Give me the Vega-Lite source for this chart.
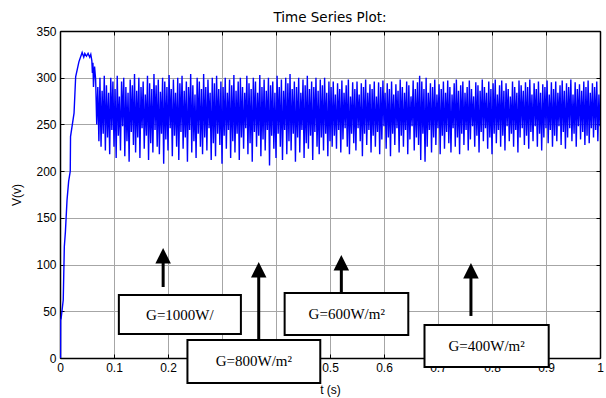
{
  "$schema": "https://vega.github.io/schema/vega-lite/v6.json",
  "width": 540,
  "height": 327,
  "autosize": {"type": "none"},
  "padding": {"left": 60, "top": 31, "right": 6, "bottom": 40},
  "config": {"font": "Liberation Sans", "view": {"stroke": null}},
  "title": {"text": "Time Series Plot:", "font": "DejaVu Sans", "fontSize": 13.5, "fontWeight": "normal", "color": "#000", "offset": 1, "anchor": "middle"},
  "datasets": {
    "sig": [
      {"t":0,"v":0},{"t":0.001,"v":0},{"t":0.0012,"v":41},{"t":0.002,"v":42},{"t":0.006,"v":62},{"t":0.008,"v":119},{"t":0.010,"v":135},{"t":0.013,"v":169},{"t":0.016,"v":189},{"t":0.019,"v":200},{"t":0.0195,"v":237},{"t":0.026,"v":262},{"t":0.029,"v":301},{"t":0.035,"v":317},{"t":0.041,"v":327},{"t":0.044,"v":322},{"t":0.046,"v":326},{"t":0.049,"v":323},{"t":0.052,"v":326},{"t":0.055,"v":322},{"t":0.057,"v":325},{"t":0.059,"v":318},{"t":0.060,"v":305},{"t":0.061,"v":316},{"t":0.062,"v":290},{"t":0.064,"v":312},
      {"t":0.066,"v":298},{"t":0.068,"v":250},{"t":0.070,"v":290},{"t":0.072,"v":232},{"t":0.074,"v":300},{"t":0.076,"v":226},{"t":0.078,"v":286},{"t":0.080,"v":240},{"t":0.082,"v":302},{"t":0.084,"v":222},
      {"t":0.086,"v":292},{"t":0.088,"v":236},{"t":0.090,"v":284},{"t":0.092,"v":218},{"t":0.094,"v":300},{"t":0.096,"v":244},{"t":0.098,"v":296},{"t":0.100,"v":226},{"t":0.102,"v":288},{"t":0.104,"v":214},
      {"t":0.106,"v":302},{"t":0.108,"v":238},{"t":0.110,"v":280},{"t":0.112,"v":222},{"t":0.114,"v":296},{"t":0.116,"v":248},{"t":0.118,"v":300},{"t":0.120,"v":216},{"t":0.122,"v":290},{"t":0.124,"v":232},
      {"t":0.126,"v":284},{"t":0.128,"v":210},{"t":0.130,"v":298},{"t":0.132,"v":242},{"t":0.134,"v":292},{"t":0.136,"v":228},{"t":0.138,"v":304},{"t":0.140,"v":220},{"t":0.142,"v":286},{"t":0.144,"v":236},
      {"t":0.146,"v":300},{"t":0.148,"v":214},{"t":0.150,"v":290},{"t":0.152,"v":246},{"t":0.154,"v":296},{"t":0.156,"v":224},{"t":0.158,"v":282},{"t":0.160,"v":238},{"t":0.162,"v":302},{"t":0.164,"v":212},
      {"t":0.166,"v":294},{"t":0.168,"v":230},{"t":0.170,"v":288},{"t":0.172,"v":220},{"t":0.174,"v":304},{"t":0.176,"v":244},{"t":0.178,"v":292},{"t":0.180,"v":226},{"t":0.182,"v":298},{"t":0.184,"v":218},
      {"t":0.186,"v":285},{"t":0.188,"v":240},{"t":0.190,"v":300},{"t":0.192,"v":208},{"t":0.194,"v":296},{"t":0.196,"v":234},{"t":0.198,"v":290},{"t":0.200,"v":222},{"t":0.202,"v":303},{"t":0.204,"v":246},
      {"t":0.206,"v":288},{"t":0.208,"v":216},{"t":0.210,"v":298},{"t":0.212,"v":238},{"t":0.214,"v":284},{"t":0.216,"v":226},{"t":0.218,"v":300},{"t":0.220,"v":212},{"t":0.222,"v":294},{"t":0.224,"v":242},
      {"t":0.226,"v":302},{"t":0.228,"v":224},{"t":0.230,"v":286},{"t":0.232,"v":236},{"t":0.234,"v":296},{"t":0.236,"v":210},{"t":0.238,"v":290},{"t":0.240,"v":244},{"t":0.242,"v":304},{"t":0.244,"v":220},
      {"t":0.246,"v":292},{"t":0.248,"v":232},{"t":0.250,"v":282},{"t":0.252,"v":214},{"t":0.254,"v":300},{"t":0.256,"v":240},{"t":0.258,"v":296},{"t":0.260,"v":226},{"t":0.262,"v":288},{"t":0.264,"v":218},
      {"t":0.266,"v":304},{"t":0.268,"v":236},{"t":0.270,"v":290},{"t":0.272,"v":222},{"t":0.274,"v":298},{"t":0.276,"v":246},{"t":0.278,"v":284},{"t":0.280,"v":212},{"t":0.282,"v":300},{"t":0.284,"v":230},
      {"t":0.286,"v":294},{"t":0.288,"v":216},{"t":0.290,"v":302},{"t":0.292,"v":240},{"t":0.294,"v":288},{"t":0.296,"v":228},{"t":0.298,"v":296},{"t":0.300,"v":208},{"t":0.302,"v":290},{"t":0.304,"v":238},
      {"t":0.306,"v":300},{"t":0.308,"v":224},{"t":0.310,"v":284},{"t":0.312,"v":244},{"t":0.314,"v":298},{"t":0.316,"v":214},{"t":0.318,"v":292},{"t":0.320,"v":232},{"t":0.322,"v":303},{"t":0.324,"v":220},
      {"t":0.326,"v":286},{"t":0.328,"v":240},{"t":0.330,"v":296},{"t":0.332,"v":212},{"t":0.334,"v":300},{"t":0.336,"v":236},{"t":0.338,"v":290},{"t":0.340,"v":224},{"t":0.342,"v":284},{"t":0.344,"v":246},
      {"t":0.346,"v":302},{"t":0.348,"v":218},{"t":0.350,"v":294},{"t":0.352,"v":230},{"t":0.354,"v":288},{"t":0.356,"v":210},{"t":0.358,"v":300},{"t":0.360,"v":242},{"t":0.362,"v":296},{"t":0.364,"v":226},
      {"t":0.366,"v":284},{"t":0.368,"v":238},{"t":0.370,"v":303},{"t":0.372,"v":216},{"t":0.374,"v":290},{"t":0.376,"v":234},{"t":0.378,"v":298},{"t":0.380,"v":222},{"t":0.382,"v":286},{"t":0.384,"v":244},
      {"t":0.386,"v":300},{"t":0.388,"v":206},{"t":0.390,"v":292},{"t":0.392,"v":238},{"t":0.394,"v":296},{"t":0.396,"v":224},{"t":0.398,"v":284},{"t":0.400,"v":214},{"t":0.402,"v":302},{"t":0.404,"v":240},
      {"t":0.406,"v":290},{"t":0.408,"v":226},{"t":0.410,"v":298},{"t":0.412,"v":212},{"t":0.414,"v":286},{"t":0.416,"v":244},{"t":0.418,"v":300},{"t":0.420,"v":218},{"t":0.422,"v":294},{"t":0.424,"v":232},
      {"t":0.426,"v":304},{"t":0.428,"v":222},{"t":0.430,"v":288},{"t":0.432,"v":240},{"t":0.434,"v":296},{"t":0.436,"v":210},{"t":0.438,"v":290},{"t":0.440,"v":236},{"t":0.442,"v":300},{"t":0.444,"v":220},
      {"t":0.446,"v":284},{"t":0.448,"v":244},{"t":0.450,"v":298},{"t":0.452,"v":214},{"t":0.454,"v":292},{"t":0.456,"v":230},{"t":0.458,"v":302},{"t":0.460,"v":224},{"t":0.462,"v":288},{"t":0.464,"v":238},
      {"t":0.466,"v":296},{"t":0.468,"v":212},{"t":0.470,"v":290},{"t":0.472,"v":242},{"t":0.474,"v":300},{"t":0.476,"v":226},{"t":0.478,"v":286},{"t":0.480,"v":218},{"t":0.482,"v":298},{"t":0.484,"v":236},
      {"t":0.486,"v":292},{"t":0.488,"v":222},{"t":0.490,"v":300},{"t":0.492,"v":240},{"t":0.494,"v":284},{"t":0.496,"v":216},{"t":0.498,"v":296},{"t":0.500,"v":232},{"t":0.502,"v":290},{"t":0.504,"v":226},
      {"t":0.506,"v":296},{"t":0.508,"v":238},{"t":0.510,"v":282},{"t":0.512,"v":224},{"t":0.514,"v":294},{"t":0.516,"v":244},{"t":0.518,"v":288},{"t":0.520,"v":220},{"t":0.522,"v":297},{"t":0.524,"v":234},
      {"t":0.526,"v":284},{"t":0.528,"v":246},{"t":0.530,"v":292},{"t":0.532,"v":226},{"t":0.534,"v":298},{"t":0.536,"v":218},{"t":0.538,"v":280},{"t":0.540,"v":240},{"t":0.542,"v":295},{"t":0.544,"v":230},
      {"t":0.546,"v":288},{"t":0.548,"v":222},{"t":0.550,"v":296},{"t":0.552,"v":246},{"t":0.554,"v":282},{"t":0.556,"v":232},{"t":0.558,"v":294},{"t":0.560,"v":216},{"t":0.562,"v":290},{"t":0.564,"v":240},
      {"t":0.566,"v":298},{"t":0.568,"v":228},{"t":0.570,"v":284},{"t":0.572,"v":244},{"t":0.574,"v":293},{"t":0.576,"v":220},{"t":0.578,"v":288},{"t":0.580,"v":238},{"t":0.582,"v":296},{"t":0.584,"v":226},
      {"t":0.586,"v":280},{"t":0.588,"v":242},{"t":0.590,"v":295},{"t":0.592,"v":218},{"t":0.594,"v":290},{"t":0.596,"v":234},{"t":0.598,"v":297},{"t":0.600,"v":248},{"t":0.602,"v":284},{"t":0.604,"v":224},
      {"t":0.606,"v":294},{"t":0.608,"v":236},{"t":0.610,"v":288},{"t":0.612,"v":216},{"t":0.614,"v":296},{"t":0.616,"v":240},{"t":0.618,"v":282},{"t":0.620,"v":228},{"t":0.622,"v":293},{"t":0.624,"v":246},
      {"t":0.626,"v":286},{"t":0.628,"v":220},{"t":0.630,"v":298},{"t":0.632,"v":238},{"t":0.634,"v":290},{"t":0.636,"v":226},{"t":0.638,"v":284},{"t":0.640,"v":244},{"t":0.642,"v":296},{"t":0.644,"v":218},
      {"t":0.646,"v":292},{"t":0.648,"v":234},{"t":0.650,"v":280},{"t":0.652,"v":248},{"t":0.654,"v":297},{"t":0.656,"v":222},{"t":0.658,"v":288},{"t":0.660,"v":236},{"t":0.662,"v":295},{"t":0.664,"v":228},
      {"t":0.666,"v":302},{"t":0.668,"v":212},{"t":0.670,"v":296},{"t":0.672,"v":240},{"t":0.674,"v":288},{"t":0.676,"v":210},{"t":0.678,"v":300},{"t":0.680,"v":226},{"t":0.682,"v":284},{"t":0.684,"v":244},
      {"t":0.686,"v":294},{"t":0.688,"v":220},{"t":0.690,"v":290},{"t":0.692,"v":236},{"t":0.694,"v":298},{"t":0.696,"v":228},{"t":0.698,"v":282},{"t":0.700,"v":246},{"t":0.702,"v":293},{"t":0.704,"v":218},
      {"t":0.706,"v":288},{"t":0.708,"v":238},{"t":0.710,"v":296},{"t":0.712,"v":224},{"t":0.714,"v":284},{"t":0.716,"v":242},{"t":0.718,"v":297},{"t":0.720,"v":230},{"t":0.722,"v":290},{"t":0.724,"v":220},
      {"t":0.726,"v":282},{"t":0.728,"v":246},{"t":0.730,"v":294},{"t":0.732,"v":226},{"t":0.734,"v":298},{"t":0.736,"v":236},{"t":0.738,"v":286},{"t":0.740,"v":218},{"t":0.742,"v":292},{"t":0.744,"v":240},
      {"t":0.746,"v":296},{"t":0.748,"v":228},{"t":0.750,"v":284},{"t":0.752,"v":244},{"t":0.754,"v":290},{"t":0.756,"v":222},{"t":0.758,"v":297},{"t":0.760,"v":234},{"t":0.762,"v":288},{"t":0.764,"v":248},
      {"t":0.766,"v":280},{"t":0.768,"v":226},{"t":0.770,"v":295},{"t":0.772,"v":238},{"t":0.774,"v":292},{"t":0.776,"v":220},{"t":0.778,"v":286},{"t":0.780,"v":242},{"t":0.782,"v":298},{"t":0.784,"v":232},
      {"t":0.786,"v":290},{"t":0.788,"v":246},{"t":0.790,"v":284},{"t":0.792,"v":224},{"t":0.794,"v":296},{"t":0.796,"v":236},{"t":0.798,"v":288},{"t":0.800,"v":218},{"t":0.802,"v":294},{"t":0.804,"v":240},
      {"t":0.806,"v":298},{"t":0.808,"v":230},{"t":0.810,"v":282},{"t":0.812,"v":244},{"t":0.814,"v":292},{"t":0.816,"v":226},{"t":0.818,"v":297},{"t":0.820,"v":238},{"t":0.822,"v":286},{"t":0.824,"v":222},
      {"t":0.826,"v":294},{"t":0.828,"v":248},{"t":0.830,"v":288},{"t":0.832,"v":232},{"t":0.834,"v":280},{"t":0.836,"v":240},{"t":0.838,"v":296},{"t":0.840,"v":226},{"t":0.842,"v":290},{"t":0.844,"v":244},
      {"t":0.846,"v":284},{"t":0.848,"v":220},{"t":0.850,"v":297},{"t":0.852,"v":236},{"t":0.854,"v":292},{"t":0.856,"v":246},{"t":0.858,"v":286},{"t":0.860,"v":228},{"t":0.862,"v":295},{"t":0.864,"v":238},
      {"t":0.866,"v":290},{"t":0.868,"v":224},{"t":0.870,"v":298},{"t":0.872,"v":242},{"t":0.874,"v":282},{"t":0.876,"v":232},{"t":0.878,"v":294},{"t":0.880,"v":248},{"t":0.882,"v":288},{"t":0.884,"v":226},
      {"t":0.886,"v":296},{"t":0.888,"v":240},{"t":0.890,"v":284},{"t":0.892,"v":222},{"t":0.894,"v":293},{"t":0.896,"v":236},{"t":0.898,"v":290},{"t":0.900,"v":246},{"t":0.902,"v":297},{"t":0.904,"v":230},
      {"t":0.906,"v":282},{"t":0.908,"v":244},{"t":0.910,"v":295},{"t":0.912,"v":226},{"t":0.914,"v":288},{"t":0.916,"v":238},{"t":0.918,"v":296},{"t":0.920,"v":232},{"t":0.922,"v":284},{"t":0.924,"v":248},
      {"t":0.926,"v":292},{"t":0.928,"v":228},{"t":0.930,"v":297},{"t":0.932,"v":242},{"t":0.934,"v":286},{"t":0.936,"v":224},{"t":0.938,"v":294},{"t":0.940,"v":236},{"t":0.942,"v":290},{"t":0.944,"v":246},
      {"t":0.946,"v":298},{"t":0.948,"v":232},{"t":0.950,"v":282},{"t":0.952,"v":240},{"t":0.954,"v":295},{"t":0.956,"v":226},{"t":0.958,"v":288},{"t":0.960,"v":248},{"t":0.962,"v":293},{"t":0.964,"v":234},
      {"t":0.966,"v":286},{"t":0.968,"v":242},{"t":0.970,"v":296},{"t":0.972,"v":228},{"t":0.974,"v":290},{"t":0.976,"v":238},{"t":0.978,"v":297},{"t":0.980,"v":230},{"t":0.982,"v":284},{"t":0.984,"v":246},
      {"t":0.986,"v":294},{"t":0.988,"v":236},{"t":0.990,"v":290},{"t":0.992,"v":244},{"t":0.994,"v":296},{"t":0.996,"v":232},{"t":0.998,"v":282},{"t":1.0,"v":248}
    ],
    "boxes": [
      {"label":"G=1000W/","t1":0.109,"t2":0.335,"v1":25.7,"v2":67.4,"tc":0.222,"vc":46},
      {"label":"G=800W/m²","t1":0.236,"t2":0.482,"v1":-26.8,"v2":19.3,"tc":0.359,"vc":-3},
      {"label":"G=600W/m²","t1":0.416,"t2":0.645,"v1":24.6,"v2":69.6,"tc":0.531,"vc":47},
      {"label":"G=400W/m²","t1":0.675,"t2":0.905,"v1":-9.6,"v2":35.3,"tc":0.790,"vc":12.5}
    ],
    "arrows": [
      {"t":0.191,"v1":76,"v2":109.4},
      {"t":0.368,"v1":19.3,"v2":94.4},
      {"t":0.521,"v1":69.6,"v2":101.9},
      {"t":0.761,"v1":45,"v2":93.4}
    ]
  },
  "resolve": {"axis": {"x": "independent", "y": "independent"}},
  "layer": [
    {
      "data": {"name": "sig"},
      "mark": {"type": "line", "color": "#0000ff", "strokeWidth": 1.4, "clip": true},
      "encoding": {
        "x": {"field": "t", "type": "quantitative", "scale": {"domain": [0, 1], "nice": false, "zero": false},
          "axis": {"orient": "bottom", "values": [0,0.1,0.2,0.3,0.4,0.5,0.6,0.7,0.8,0.9,1], "format": "~g", "title": "t (s)",
            "labelExpr": "datum.value == 0.3 || datum.value == 0.4 ? '' : datum.label",
            "grid": true, "gridColor": "#a6a6a6", "gridWidth": 1, "gridOpacity": 1,
            "domainColor": "#000", "domainWidth": 1.5, "tickColor": "#000", "tickSize": -4, "tickWidth": 1,
            "labelColor": "#000", "labelFontSize": 12, "labelPadding": 8, "labelFlush": false, "labelOverlap": false,
            "titleColor": "#000", "titleFontSize": 12, "titleFontWeight": "normal", "titlePadding": 11, "zindex": 0}},
        "y": {"field": "v", "type": "quantitative", "scale": {"domain": [0, 350], "nice": false, "zero": false},
          "axis": {"orient": "left", "values": [0,50,100,150,200,250,300,350], "title": "V(v)",
            "grid": true, "gridColor": "#a6a6a6", "gridWidth": 1, "gridOpacity": 1,
            "domainColor": "#000", "domainWidth": 1.5, "tickColor": "#000", "tickSize": -4, "tickWidth": 1,
            "labelColor": "#000", "labelFontSize": 12, "labelPadding": 8, "labelFlush": false, "labelOverlap": false,
            "titleColor": "#000", "titleFontSize": 12, "titleFontWeight": "normal", "titlePadding": 12, "zindex": 0}}
      }
    },
    {
      "data": {"name": "boxes"},
      "mark": {"type": "rect", "fill": "#ffffff", "stroke": "#000000", "strokeWidth": 2, "clip": false},
      "encoding": {
        "x": {"field": "t1", "type": "quantitative",
          "axis": {"orient": "top", "values": [0,0.1,0.2,0.3,0.4,0.5,0.6,0.7,0.8,0.9,1], "labels": false, "title": null, "grid": false,
            "domainColor": "#000", "domainWidth": 1.5, "tickColor": "#000", "tickSize": -4, "zindex": 0}},
        "x2": {"field": "t2"},
        "y": {"field": "v1", "type": "quantitative",
          "axis": {"orient": "right", "values": [0,50,100,150,200,250,300,350], "labels": false, "title": null, "grid": false,
            "domainColor": "#000", "domainWidth": 1.5, "tickColor": "#000", "tickSize": -4, "zindex": 0}},
        "y2": {"field": "v2"}
      }
    },
    {
      "data": {"name": "boxes"},
      "mark": {"type": "text", "font": "Liberation Serif", "fontSize": 15, "color": "#000", "align": "center", "baseline": "middle"},
      "encoding": {
        "x": {"field": "tc", "type": "quantitative", "axis": null},
        "y": {"field": "vc", "type": "quantitative", "axis": null},
        "text": {"field": "label"}
      }
    },
    {
      "data": {"name": "arrows"},
      "mark": {"type": "rule", "color": "#000", "strokeWidth": 3},
      "encoding": {
        "x": {"field": "t", "type": "quantitative", "axis": null},
        "y": {"field": "v1", "type": "quantitative", "axis": null},
        "y2": {"field": "v2"}
      }
    },
    {
      "data": {"name": "arrows"},
      "mark": {"type": "point", "shape": "M-1,1L1,1L0,-1Z", "filled": true, "color": "#000", "opacity": 1, "size": 240},
      "encoding": {
        "x": {"field": "t", "type": "quantitative", "axis": null},
        "y": {"field": "v2", "type": "quantitative", "axis": null}
      }
    }
  ]
}
